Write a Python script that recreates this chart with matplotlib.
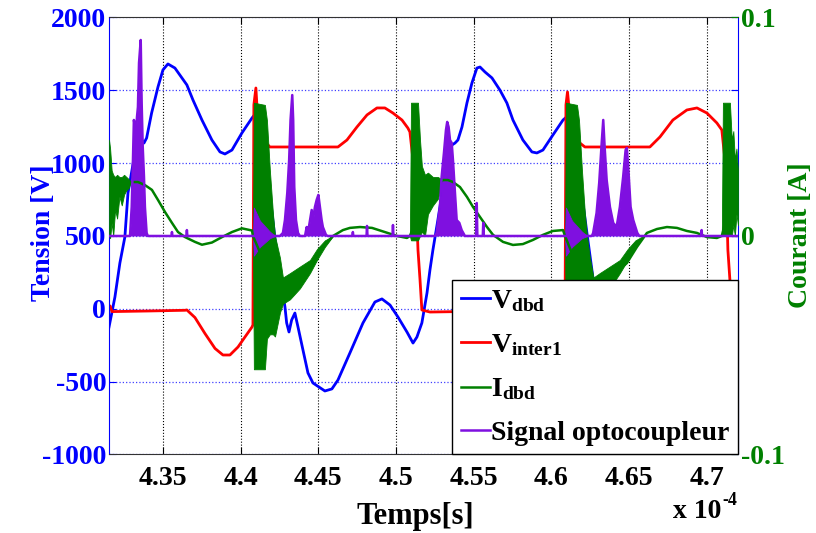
import matplotlib
matplotlib.use("Agg")
import matplotlib.pyplot as plt

plt.rcParams["font.family"] = "Liberation Serif"
plt.rcParams["font.weight"] = "bold"
plt.rcParams["mathtext.fontset"] = "custom"
plt.rcParams["mathtext.rm"] = "Liberation Serif:bold"
plt.rcParams["mathtext.bf"] = "Liberation Serif:bold"
plt.rcParams["mathtext.it"] = "Liberation Serif:bold"
plt.rcParams["axes.unicode_minus"] = False

# time in units of 1e-4 s
vdbd_t = [4.3153, 4.3191, 4.3223, 4.3255, 4.3275, 4.3320, 4.3339, 4.3352, 4.3363, 4.3378,
          4.3395, 4.3427, 4.3468, 4.3500, 4.3532, 4.3577, 4.3654, 4.3693, 4.3751, 4.3815,
          4.3867, 4.3899, 4.3944, 4.4008, 4.4073, 4.4092, 4.4176, 4.4221, 4.4285, 4.4296,
          4.4311, 4.4328, 4.4349, 4.4369, 4.4401, 4.4433, 4.4465, 4.4542, 4.4587, 4.4626,
          4.4703, 4.4787, 4.4864, 4.4909, 4.4961, 4.5012, 4.5070, 4.5109, 4.5134, 4.5166,
          4.5199, 4.5218, 4.5237, 4.5269, 4.5302, 4.5334, 4.5360, 4.5379, 4.5398, 4.5424,
          4.5456, 4.5488, 4.5520, 4.5540, 4.5572, 4.5617, 4.5668, 4.5713, 4.5752, 4.5816,
          4.5874, 4.5906, 4.5945, 4.6009, 4.6074, 4.6100, 4.6183, 4.6228, 4.6290, 4.6300,
          4.6315, 4.6332, 4.6355, 4.6375, 4.6410, 4.6440, 4.6475, 4.6550, 4.6600, 4.6640,
          4.6710, 4.6790, 4.6870, 4.6910, 4.6960, 4.7010, 4.7070, 4.7110, 4.7135, 4.7170,
          4.7200]
vdbd_v = [-125, 81, 315, 493, 795, 1070, 1207, 1173, 1159, 1138,
          1173, 1344, 1523, 1640, 1681, 1653, 1537, 1434, 1296, 1159,
          1077, 1063, 1090, 1207, 1310, 1335, 900, 480, 13, -97,
          -159, -77, -29, -125, -283, -440, -509, -564, -550, -489,
          -303, -97, 47, 68, 26, -56, -159, -235, -194, -97,
          109, 267, 404, 610, 836, 1021, 1125, 1138, 1159, 1248,
          1413, 1550, 1653, 1660, 1626, 1585, 1502, 1413, 1296, 1159,
          1077, 1070, 1090, 1193, 1296, 1320, 884, 521, 30, -90,
          -150, -70, -30, -120, -290, -440, -510, -560, -545, -480,
          -300, -100, 50, 70, 30, -50, -160, -230, -190, -90,
          60]

vinter_t = [4.3153, 4.3160, 4.3172, 4.3400, 4.3642, 4.3654, 4.3706, 4.3770, 4.3835, 4.3886,
            4.3931, 4.3983, 4.4028, 4.4073, 4.4079, 4.4085, 4.4098, 4.4110, 4.4150, 4.4176,
            4.4188, 4.4626, 4.4684, 4.4748, 4.4813, 4.4877, 4.4928, 4.4980, 4.5038, 4.5076,
            4.5089, 4.5109, 4.5122, 4.5134, 4.5141, 4.5154, 4.5166, 4.5218, 4.5650, 4.5670,
            4.5720, 4.5780, 4.5845, 4.5895, 4.5940, 4.5995, 4.6040, 4.6080, 4.6087, 4.6093,
            4.6103, 4.6120, 4.6165, 4.6183, 4.6215, 4.6633, 4.6698, 4.6781, 4.6871, 4.6936,
            4.7000, 4.7064, 4.7096, 4.7116, 4.7128, 4.7135, 4.7148, 4.7165, 4.7200]
vinter_v = [10, 20, -19, -15, -10, -8, -60, -169, -272, -317,
            -317, -262, -193, -125, -110, 1400, 1516, 1300, 1160, 1125,
            1111, 1111, 1159, 1248, 1331, 1379, 1379, 1344, 1296, 1241,
            1214, 1022, 836, 610, 404, 200, -8, -22, -15, -8,
            -60, -169, -272, -317, -317, -262, -193, -125, -110, 1400,
            1489, 1300, 1160, 1138, 1111, 1111, 1180, 1296, 1365, 1379,
            1344, 1276, 1228, 1022, 699, 404, 198, 0, -15]

idbd_t = [4.3153, 4.3288, 4.3339, 4.3384, 4.3429, 4.3468, 4.3513, 4.3558, 4.3597, 4.3642,
          4.3706, 4.3751, 4.3815, 4.3880, 4.3944, 4.4008, 4.4073, 4.4079, 4.4200, 4.4272,
          4.4317, 4.4381, 4.4446, 4.4491, 4.4542, 4.4594, 4.4658, 4.4703, 4.4768, 4.4845,
          4.4928, 4.5006, 4.5070, 4.5089, 4.5200, 4.5302, 4.5334, 4.5366, 4.5411, 4.5456,
          4.5495, 4.5540, 4.5585, 4.5624, 4.5688, 4.5752, 4.5816, 4.5881, 4.5945, 4.6009,
          4.6074, 4.6087, 4.6200, 4.6312, 4.6395, 4.6485, 4.6550, 4.6614, 4.6679, 4.6743,
          4.6807, 4.6871, 4.6936, 4.7000, 4.7064, 4.7096, 4.7200]
idbd_a = [0.022, 0.0247, 0.0247, 0.0233, 0.0211, 0.0165, 0.0110, 0.0060, 0.0018, -0.0005,
          -0.0027, -0.0040, -0.0030, -0.0005, 0.0018, 0.0035, 0.0025, 0.0, -0.020, -0.0247,
          -0.022, -0.019, -0.014, -0.0087, -0.004, 0.0, 0.0027, 0.0037, 0.0041, 0.0037,
          0.0018, 0.0, -0.0009, 0.0, 0.020, 0.0256, 0.0256, 0.0247, 0.0224, 0.0179,
          0.0133, 0.0087, 0.0041, 0.0005, -0.0027, -0.0041, -0.0037, -0.0018, 0.0005, 0.0023,
          0.0027, 0.0, -0.020, -0.0201, -0.0179, -0.0124, -0.0050, 0.0014, 0.0032, 0.0041,
          0.0037, 0.0023, 0.0014, -0.0005, -0.0009, 0.0, 0.030]

# envelopes of the fast current oscillations (A)
burst_a_t = [4.3153, 4.3160, 4.3170, 4.3180, 4.3192, 4.3205, 4.3220, 4.3235, 4.3250, 4.3265, 4.3280, 4.3292]
burst_a_hi = [0.044, 0.040, 0.030, 0.028, 0.027, 0.028, 0.027, 0.027, 0.028, 0.027, 0.026, 0.0247]
burst_a_lo = [0.000, -0.001, 0.006, 0.000, 0.012, 0.008, 0.018, 0.014, 0.019, 0.021, 0.022, 0.0247]

burst_b_t = [4.4079, 4.4085, 4.4156, 4.4169, 4.4188, 4.4208, 4.4221, 4.4253, 4.4272, 4.4317, 4.4381, 4.4446, 4.4491, 4.4542, 4.4594]
burst_d_t = [4.6087, 4.6093, 4.6164, 4.6177, 4.6196, 4.6215, 4.6228, 4.6247, 4.6270, 4.6310, 4.6375, 4.6440, 4.6490, 4.6540, 4.6590]
burst_bd_hi = [0.0, 0.061, 0.060, 0.053, 0.030, 0.010, 0.000, -0.010, -0.019, -0.017, -0.014, -0.011, -0.006, -0.002, 0.000]
burst_bd_lo = [0.0, -0.061, -0.061, -0.047, -0.045, -0.045, -0.046, -0.035, -0.031, -0.029, -0.024, -0.017, -0.011, -0.005, 0.000]

burst_c_t = [4.5089, 4.5096, 4.5141, 4.5154, 4.5166, 4.5186, 4.5205, 4.5237, 4.5269, 4.5302]
burst_c_hi = [0.0, 0.061, 0.061, 0.044, 0.032, 0.028, 0.029, 0.027, 0.027, 0.0256]
burst_c_lo = [0.0, -0.002, -0.002, 0.0, 0.002, 0.0, 0.010, 0.014, 0.017, 0.0256]

burst_e_t = [4.7096, 4.7103, 4.7148, 4.7160, 4.7170, 4.7180, 4.7190, 4.7200]
burst_e_hi = [0.0, 0.061, 0.061, 0.044, 0.048, 0.035, 0.040, 0.030]
burst_e_lo = [0.0, 0.0, 0.0, 0.0, 0.005, 0.0, 0.010, 0.005]

opto_t = [4.3153, 4.3288, 4.3299, 4.3307, 4.3313, 4.3326, 4.3333, 4.3339, 4.3346, 4.3357,
          4.3363, 4.3370, 4.3378, 4.3384, 4.3395, 4.3403,
          4.3555, 4.3558, 4.3561, 4.3651, 4.3654, 4.3657,
          4.4079, 4.4253, 4.4272, 4.4285, 4.4300, 4.4312, 4.4321, 4.4332, 4.4338, 4.4345,
          4.4356, 4.4369, 4.4381,
          4.4414, 4.4425, 4.4433, 4.4457, 4.4465, 4.4478, 4.4489, 4.4500, 4.4510, 4.4521,
          4.4529, 4.4549, 4.4560,
          4.4719, 4.4722, 4.4725, 4.4810, 4.4813, 4.4816, 4.4977, 4.4980, 4.4983,
          4.5250, 4.5261, 4.5282, 4.5293, 4.5308, 4.5321, 4.5329, 4.5338, 4.5347, 4.5358,
          4.5366, 4.5379, 4.5390, 4.5407, 4.5422, 4.5443,
          4.5515, 4.5519, 4.5523, 4.5558, 4.5561, 4.5564,
          4.6087, 4.6260, 4.6268, 4.6290, 4.6307, 4.6323, 4.6333, 4.6342, 4.6355, 4.6376,
          4.6397, 4.6419, 4.6440, 4.6461, 4.6477, 4.6485, 4.6496, 4.6509, 4.6526, 4.6552,
          4.6565,
          4.6963, 4.6966, 4.6969, 4.7200]
opto_a = [0, 0, 0.0133, 0.0348, 0.0531, 0.0471, 0.0545, 0.0590, 0.0792, 0.0897,
          0.0609, 0.0407, 0.0270, 0.0133, 0.0014, 0,
          0, 0.0018, 0, 0, 0.0027, 0,
          0, 0, 0.0014, 0.0073, 0.0197, 0.0348, 0.0531, 0.0645, 0.0531, 0.0224,
          0.0073, 0.0014, 0,
          0, 0.0041, 0.0014, 0.0119, 0.0073, 0.0133, 0.0165, 0.0188, 0.0133, 0.0073,
          0.0041, 0.0005, 0,
          0, 0.0018, 0, 0, 0.0046, 0, 0, 0.0050, 0,
          0, 0.0014, 0.0133, 0.0270, 0.0380, 0.0485, 0.0522, 0.0499, 0.0439, 0.0426,
          0.0348, 0.0197, 0.0073, 0.0060, 0.0027, 0,
          0, 0.0151, 0, 0, 0.0060, 0,
          0, 0, 0.0014, 0.0105, 0.0243, 0.0426, 0.0531, 0.0407, 0.0256, 0.0133,
          0.0060, 0.0041, 0.0133, 0.0270, 0.0394, 0.0403, 0.0288, 0.0133, 0.0073, 0.0014,
          0,
          0, 0.0027, 0, 0]

# optocoupler ringing at the switching instants
osc1_t = [4.4079, 4.4085, 4.4124, 4.4188, 4.4221]
osc2_t = [4.6087, 4.6093, 4.6132, 4.6196, 4.6230]
osc_hi = [0, 0.013, 0.007, 0.002, 0]
osc_lo = [0, -0.009, -0.005, -0.001, 0]

x_ticks = [4.35, 4.4, 4.45, 4.5, 4.55, 4.6, 4.65, 4.7]
x_labels = ["4.35", "4.4", "4.45", "4.5", "4.55", "4.6", "4.65", "4.7"]
v_ticks = [-1000, -500, 0, 500, 1000, 1500, 2000]
a_ticks = [-0.1, 0, 0.1]
a_labels = ["-0.1", "0", "0.1"]

blue = "#0000FF"
red = "#FF0000"
green = "#008000"
purple = "#7F10E0"

fig = plt.figure(figsize=(8.16, 5.33), dpi=100)
ax = fig.add_axes([0.1336, 0.1473, 0.7708, 0.8199])
ax2 = ax.twinx()

l1, = ax.plot(vdbd_t, vdbd_v, color=blue, lw=2.0)
l2, = ax.plot(vinter_t, vinter_v, color=red, lw=2.0)

for bt, bh, bl in [(burst_a_t, burst_a_hi, burst_a_lo), (burst_b_t, burst_bd_hi, burst_bd_lo),
                   (burst_c_t, burst_c_hi, burst_c_lo), (burst_d_t, burst_bd_hi, burst_bd_lo),
                   (burst_e_t, burst_e_hi, burst_e_lo)]:
    ax2.fill_between(bt, bl, bh, color=green, lw=0.6)
l3, = ax2.plot(idbd_t, idbd_a, color=green, lw=1.8)

ax2.fill_between(opto_t, 0, opto_a, color=purple, lw=0)
l4, = ax2.plot(opto_t, opto_a, color=purple, lw=1.8)
for ot in [osc1_t, osc2_t]:
    ax2.fill_between(ot, osc_lo, osc_hi, color=purple, lw=0.6)

ax.set_xlim(4.3153, 4.7200)
ax.set_ylim(-1000, 2000)
ax2.set_ylim(-0.1, 0.1)

ax.set_xticks(x_ticks)
ax.set_xticklabels(x_labels, fontsize=20, fontweight="bold")
ax.set_yticks(v_ticks)
ax.set_yticklabels([str(v) for v in v_ticks], fontsize=20, fontweight="bold", color=blue)
ax2.set_yticks(a_ticks)
ax2.set_yticklabels(a_labels, fontsize=20, fontweight="bold", color=green)

ax.tick_params(axis="x", direction="in", length=5, top=True, pad=8, colors="k")
ax.tick_params(axis="y", direction="in", length=5, right=True, pad=2, colors=blue)
ax2.tick_params(axis="y", direction="in", length=5, pad=2, colors=green)

ax.grid(axis="x", color="k", linestyle=":", linewidth=0.8)
ax.grid(axis="y", color="#4040FF", linestyle=":", linewidth=0.9)

for s in ["top", "bottom"]:
    ax.spines[s].set_color("#333333")
for s in ["left", "right"]:
    ax.spines[s].set_color(blue)
for s in ax2.spines.values():
    s.set_visible(False)

leg = ax2.legend([l1, l2, l3, l4],
                 [r"V$_{\mathbf{dbd}}$", r"V$_{\mathbf{inter1}}$", r"I$_{\mathbf{dbd}}$", "Signal optocoupleur"],
                 loc="lower right", bbox_to_anchor=(1.0, 0.0), borderaxespad=0,
                 fontsize=20, fancybox=False, framealpha=1, edgecolor="k",
                 handlelength=1.05, handletextpad=0.05, labelspacing=0.66, borderpad=0.3)
leg.get_frame().set_linewidth(1.0)

fig.text(0.0527, 0.5629, "Tension [V]", rotation=90, color=blue, fontsize=20,
         fontweight="bold", ha="center", va="center")
fig.text(0.9816, 0.559, "Courant [A]", rotation=90, color=green, fontsize=20,
         fontweight="bold", ha="center", va="center")
fig.text(0.5086, 0.0169, "Temps[s]", fontsize=22, fontweight="bold", ha="center", va="baseline")
fig.text(0.8248, 0.0281, "x 10", fontsize=20, fontweight="bold", ha="left", va="baseline")
fig.text(0.8848, 0.0525, "-4", fontsize=13, fontweight="bold", ha="left", va="baseline")

plt.savefig("out.png", dpi=100)
